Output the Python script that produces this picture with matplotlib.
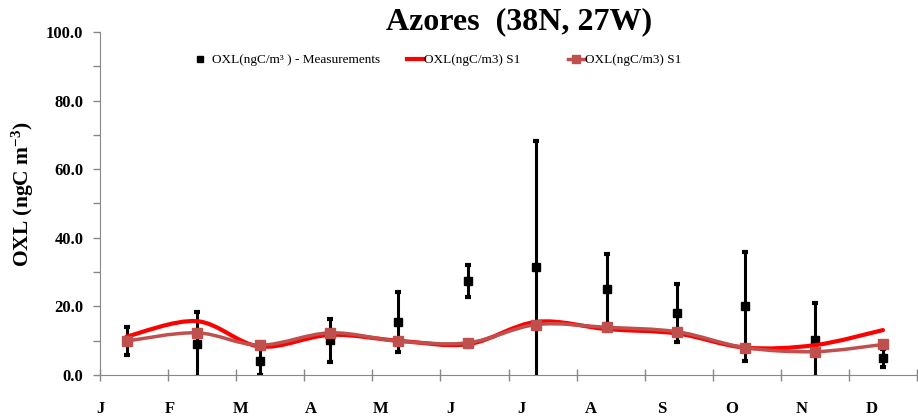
import matplotlib.pyplot as plt
import numpy as np
from matplotlib.path import Path
from matplotlib.patches import PathPatch
from matplotlib.lines import Line2D
from matplotlib.legend import Legend

plt.rcParams['font.family'] = ['Liberation Serif', 'DejaVu Serif']
plt.rcParams['mathtext.fontset'] = 'custom'
plt.rcParams['mathtext.rm'] = 'Liberation Serif:bold'
plt.rcParams['mathtext.it'] = 'Liberation Serif:bold'
plt.rcParams['mathtext.default'] = 'rm'

# data
months = ['J', 'F', 'M', 'A', 'M', 'J', 'J', 'A', 'S', 'O', 'N', 'D']
month_x = [0.39, 1.42, 2.35, 3.38, 4.38, 5.41, 6.41, 7.44, 8.48, 9.47, 10.5, 11.5]
meas = [9.8, 8.9, 4.1, 10.1, 15.5, 27.4, 31.6, 25.1, 18.0, 20.1, 10.2, 4.9]
meas_err = [4.1, 9.5, 4.1, 6.3, 8.7, 4.6, 36.7, 10.2, 8.5, 15.9, 10.9, 2.7]
s1_line = [11.2, 15.7, 8.3, 11.7, 10.0, 9.0, 15.5, 13.4, 12.1, 8.0, 8.7, 13.1]
s1_mark = [9.9, 12.3, 8.7, 12.3, 9.9, 9.4, 14.7, 13.9, 12.6, 8.0, 6.8, 8.9]

red = '#FF0000'
brown = '#C0504D'


def smooth_path(x, y):
    # excel-like smoothed line (catmull-rom as bezier)
    pts = np.column_stack([x, y])
    p = np.vstack([pts[0], pts, pts[-1]])
    verts = [pts[0]]
    codes = [Path.MOVETO]
    for i in range(1, len(p) - 2):
        c1 = p[i] + (p[i + 1] - p[i - 1]) / 6
        c2 = p[i + 1] - (p[i + 2] - p[i]) / 6
        verts += [c1, c2, p[i + 1]]
        codes += [Path.CURVE4] * 3
    return Path(verts, codes)


fig = plt.figure(figsize=(9.18, 4.19), dpi=100)
ax = fig.add_axes([100 / 918, 44 / 419, 817 / 918, 343 / 419])

ax.errorbar(month_x, meas, yerr=meas_err, fmt='s', color='black', ms=6,
            elinewidth=2.2, capsize=2, capthick=3, zorder=2)

ax.add_patch(PathPatch(smooth_path(month_x, s1_line), fill=False,
                       edgecolor=red, lw=3, zorder=3, capstyle='round'))
ax.add_patch(PathPatch(smooth_path(month_x, s1_mark), fill=False,
                       edgecolor=brown, lw=2.5, zorder=4))
ax.plot(month_x, s1_mark, ls='none', marker='s', ms=7, color=brown, zorder=5)

ax.set_xlim(0, 12)
ax.set_ylim(0, 100)
ax.xaxis.remove_overlapping_locs = False
ax.set_xticks(np.arange(13))
ax.set_xticklabels([])
ax.set_xticks(np.arange(12) * 70.1 / 68, minor=True)
ax.set_xticklabels(months, minor=True, fontsize=12, fontweight='bold')
ax.tick_params(axis='x', which='major', direction='inout', length=9,
               color='#888888', width=1)
ax.tick_params(axis='x', which='minor', length=0, pad=19)

ax.set_yticks(np.arange(0, 101, 20))
ax.set_yticklabels(['%.1f' % v for v in np.arange(0, 101, 20)],
                   fontsize=12, fontweight='bold')
ax.set_yticks(np.arange(10, 100, 20), minor=True)
ax.tick_params(axis='y', which='both', direction='out', length=5,
               color='#888888', width=1, pad=7)

for s in ['top', 'right']:
    ax.spines[s].set_visible(False)
for s in ['left', 'bottom']:
    ax.spines[s].set_color('#888888')

ax.set_ylabel('OXL (ngC m$^{-3}$)', fontsize=15.5, fontweight='bold')
ax.yaxis.set_label_coords(-0.078, 0.528)
ax.set_title('Azores  (38N, 27W)', fontsize=23, fontweight='bold',
             x=0.513, y=1.0, pad=2)

# legend as three separate pieces, like the original
h1 = Line2D([], [], color='black', marker='s', ls='none', ms=5)
h2 = Line2D([], [], color=red, lw=3)
h3 = Line2D([], [], color=brown, lw=2.5, marker='s', ms=6)
legs = [
    ([h1], ['OXL(ngC/m³ ) - Measurements'], 0.114, 1.0, 0.4),
    ([h2], ['OXL(ngC/m3) S1'], 0.376, 1.25, 0.05),
    ([h3], ['OXL(ngC/m3) S1'], 0.573, 1.25, 0.05),
]
for hs, ls, x0, hl, tp in legs:
    lg = Legend(ax, hs, ls, loc='center left', bbox_to_anchor=(x0, 0.918),
                frameon=False, fontsize=9.5, handlelength=hl,
                handletextpad=tp, borderpad=0, borderaxespad=0)
    ax.add_artist(lg)

fig.savefig('out.png', dpi=100)
